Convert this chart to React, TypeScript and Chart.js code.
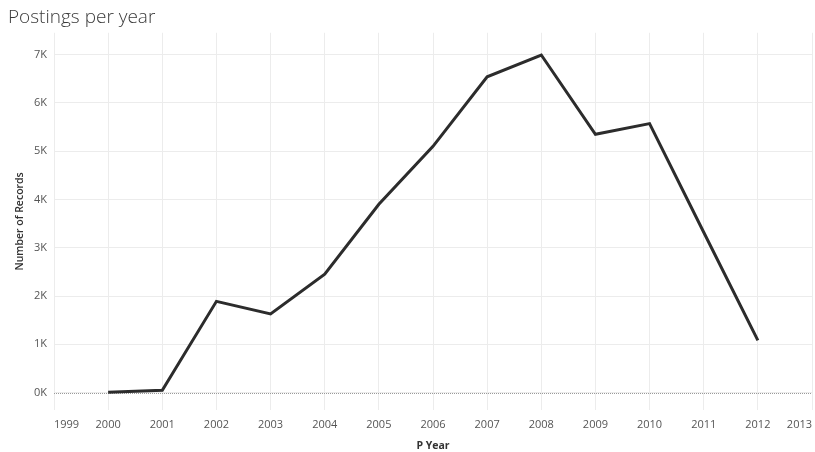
import React, { useEffect, useRef } from "react";
import { Chart, registerables } from "chart.js";

Chart.register(...registerables);

const years = [2000, 2001, 2002, 2003, 2004, 2005, 2006, 2007, 2008, 2009, 2010, 2011, 2012];
const records = [5, 50, 1890, 1630, 2450, 3900, 5100, 6540, 6990, 5350, 5570, 3320, 1080];
const yTickValues = [0, 1000, 2000, 3000, 4000, 5000, 6000, 7000];
const xRange = [1999, 2013];
const yRange = [-360, 7450];

const FONT = "'Open Sans', 'Noto Sans', sans-serif";

const zeroLine = {
  id: "zeroLine",
  beforeDatasetsDraw(chart: any) {
    const { ctx, chartArea, scales } = chart;
    const y = Math.round(scales.y.getPixelForValue(0)) + 0.5;
    ctx.save();
    ctx.strokeStyle = "#9a9a9a";
    ctx.lineWidth = 1;
    ctx.setLineDash([1, 1]);
    ctx.beginPath();
    ctx.moveTo(chartArea.left, y);
    ctx.lineTo(chartArea.right, y);
    ctx.stroke();
    ctx.restore();
  },
};

export default function App() {
  const ref = useRef<HTMLCanvasElement>(null);
  useEffect(() => {
    document.body.style.margin = "0";
    const chart = new Chart(ref.current!, {
      type: "line",
      data: {
        datasets: [
          {
            label: "Number of Records",
            data: years.map((yr, i) => ({ x: yr, y: records[i] })),
            borderColor: "#2c2c2c",
            borderWidth: 3,
            pointRadius: 0,
            tension: 0,
            fill: false,
          },
        ],
      },
      plugins: [zeroLine],
      options: {
        animation: false,
        responsive: false,
        maintainAspectRatio: false,
        layout: { padding: { left: 8, right: 3, top: 0, bottom: 0 } },
        plugins: {
          legend: { display: false },
          tooltip: { enabled: false },
          title: {
            display: true,
            text: "Postings per year",
            align: "start",
            color: "#3a3a3a",
            font: { family: FONT, size: 19, weight: "300", lineHeight: 1.2 },
            padding: { top: 6, bottom: 4 },
          },
        },
        scales: {
          x: {
            type: "linear",
            min: xRange[0],
            max: xRange[1],
            afterFit: (s: any) => {
              s.height = 42;
              s.paddingLeft = 0;
              s.paddingRight = 0;
            },
            grid: { color: "#ececec", lineWidth: 1, drawTicks: false },
            border: { display: false },
            ticks: {
              stepSize: 1,
              autoSkip: false,
              maxRotation: 0,
              align: "inner",
              padding: 8,
              color: "#555555",
              font: { family: FONT, size: 11 },
              callback: (v: any) => String(v),
            },
            title: {
              display: true,
              text: "P Year",
              color: "#333333",
              font: { family: FONT, size: 10.5, weight: "bold" },
              padding: { top: 2, bottom: 0 },
            },
          },
          y: {
            type: "linear",
            min: yRange[0],
            max: yRange[1],
            afterFit: (s: any) => {
              s.width = 46;
            },
            afterBuildTicks: (s: any) => {
              s.ticks = yTickValues.map((v) => ({ value: v }));
            },
            grid: { color: "#ececec", lineWidth: 1, drawTicks: false },
            border: { display: false },
            ticks: {
              padding: 7,
              color: "#555555",
              font: { family: FONT, size: 11 },
              callback: (v: any) => `${Math.round(Number(v) / 1000)}K`,
            },
            title: {
              display: true,
              text: "Number of Records",
              color: "#333333",
              font: { family: FONT, size: 10.5, weight: "600" },
              padding: { top: 6, bottom: 0 },
            },
          },
        },
      },
    });
    return () => chart.destroy();
  }, []);
  return (
    <div style={{ position: "absolute", left: 0, top: 0, width: 815, height: 452 }}>
      <canvas ref={ref} width={815} height={452} style={{ width: 815, height: 452 }} />
    </div>
  );
}
